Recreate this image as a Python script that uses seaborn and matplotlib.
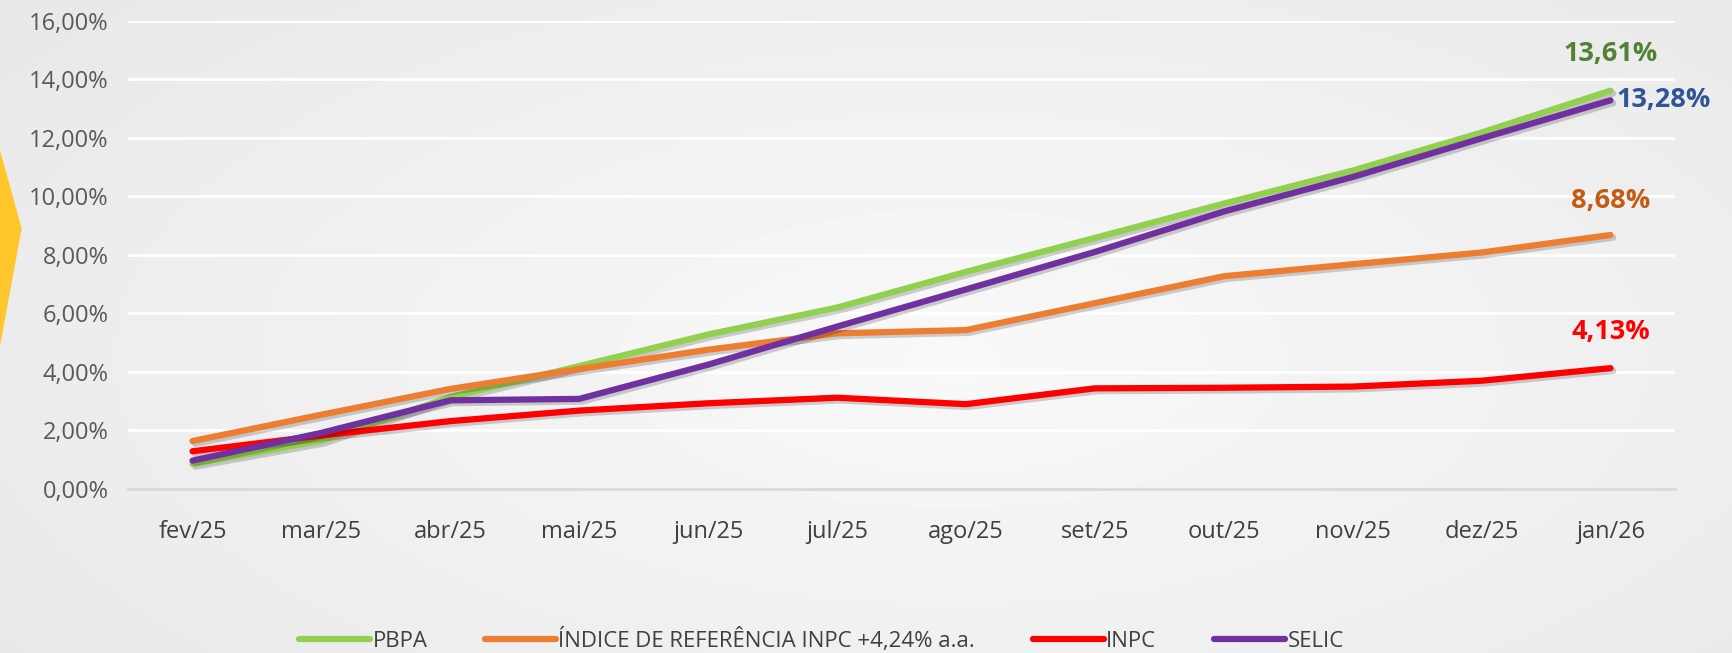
import numpy as np
import pandas as pd
import matplotlib
matplotlib.use("Agg")
import matplotlib.pyplot as plt
import matplotlib.patheffects as pe
from matplotlib.patches import Polygon
from matplotlib.ticker import FixedLocator
from matplotlib.lines import Line2D
import seaborn as sns

months = ["fev/25", "mar/25", "abr/25", "mai/25", "jun/25", "jul/25",
          "ago/25", "set/25", "out/25", "nov/25", "dez/25", "jan/26"]
pbpa = [0.86, 1.65, 3.14, 4.20, 5.28, 6.20, 7.42, 8.58, 9.75, 10.88, 12.18, 13.61]
indice = [1.64, 2.54, 3.42, 4.10, 4.76, 5.32, 5.43, 6.35, 7.27, 7.68, 8.08, 8.68]
inpc = [1.29, 1.83, 2.32, 2.68, 2.93, 3.12, 2.90, 3.44, 3.46, 3.50, 3.70, 4.13]
selic = [0.97, 1.92, 3.03, 3.08, 4.25, 5.55, 6.82, 8.10, 9.48, 10.66, 11.98, 13.28]

series_names = ["PBPA", "ÍNDICE DE REFERÊNCIA INPC +4,24% a.a.", "INPC", "SELIC"]
series_vals = [pbpa, indice, inpc, selic]
line_colors = ["#92D050", "#ED7D31", "#FF0000", "#7030A0"]
end_labels = ["13,61%", "8,68%", "4,13%", "13,28%"]
label_colors = ["#538135", "#C55A11", "#FF0000", "#2F5597"]

rows = []
for name, vals in zip(series_names, series_vals):
    for i, (m, v) in enumerate(zip(months, vals)):
        rows.append({"serie": name, "pos": i, "mes": m, "valor": v / 100})
df = pd.DataFrame(rows)

sns.set_theme(style="white")
plt.rcParams["font.family"] = ["Open Sans", "DejaVu Sans"]

fig = plt.figure(figsize=(17.33, 6.53), dpi=100)
fig.patch.set_facecolor("#ebebeb")

# background gradient
bg = fig.add_axes([0, 0, 1, 1], zorder=-10)
yy, xx = np.mgrid[0:1:200j, 0:1:400j]
r = np.sqrt(((xx - 0.55) / 0.75) ** 2 + ((yy - 0.55) / 0.9) ** 2)
img = 0.975 - 0.07 * np.clip(r, 0, 1.2)
bg.imshow(img, cmap="gray", vmin=0, vmax=1, aspect="auto", extent=[0, 1, 0, 1])
bg.axis("off")
fig.patches.append(Polygon([[0, 0.77], [0.0125, 0.65], [0, 0.47]], closed=True,
                           transform=fig.transFigure, facecolor="#FFC72C",
                           edgecolor="none", zorder=-5))

ax = fig.add_axes([0.0739, 0.2511, 0.8926, 0.7172])
ax.set_facecolor("none")

sns.lineplot(data=df, x="pos", y="valor", hue="serie", hue_order=series_names,
             palette=line_colors, linewidth=4.5, ax=ax, sort=False,
             estimator=None, legend=False)
for line in ax.lines:
    line.set_solid_capstyle("round")
    line.set_path_effects([pe.SimpleLineShadow(offset=(2, -2), alpha=0.18, shadow_color="black"),
                           pe.Normal()])
    line.set_zorder(3)

ax.set_xlim(-0.5, len(months) - 0.5)
ax.set_ylim(0, 0.16)
ax.set_yticks(np.arange(0, 0.161, 0.02))
ax.set_yticklabels([f"{v:.2f}%".replace(".", ",") for v in np.arange(0, 16.1, 2)],
                   fontsize=17, color="#595959")
ax.set_xticks(range(len(months)))
ax.set_xticklabels(months, fontsize=17, color="#404040")
ax.xaxis.set_minor_locator(FixedLocator(np.arange(-0.5, len(months), 1)))
ax.tick_params(axis="x", which="major", length=0, pad=22)
ax.tick_params(axis="x", which="minor", length=9, width=2, color="#d9d9d9", direction="out")
ax.tick_params(axis="y", length=0, pad=14)
ax.grid(axis="y", color="white", linewidth=2)
ax.set_axisbelow(True)
for s in ["top", "right", "left"]:
    ax.spines[s].set_visible(False)
ax.spines["bottom"].set_color("#d9d9d9")
ax.spines["bottom"].set_linewidth(2)
ax.set_xlabel("")
ax.set_ylabel("")

last = len(months) - 1
offsets = [(0, 0.0125, "center"), (0, 0.0115, "center"), (0, 0.0125, "center"), (0.05, 0.0, "left")]
for vals, lab, col, (dx, dy, ha) in zip(series_vals, end_labels, label_colors, offsets):
    ax.text(last + dx, vals[-1] / 100 + dy, lab, color=col, fontsize=19.5,
            fontweight="bold", ha=ha, va="center")

handles = [Line2D([0], [0], color=c, linewidth=4.5) for c in line_colors]
fig.legend(handles, series_names, loc="center", bbox_to_anchor=(0.474, 0.02),
           ncol=4, frameon=False, handlelength=3.2, handletextpad=0.1,
           columnspacing=2.6, prop={"size": 16},
           labelcolor="#404040")

fig.savefig("out.png", dpi=100, facecolor=fig.get_facecolor())
